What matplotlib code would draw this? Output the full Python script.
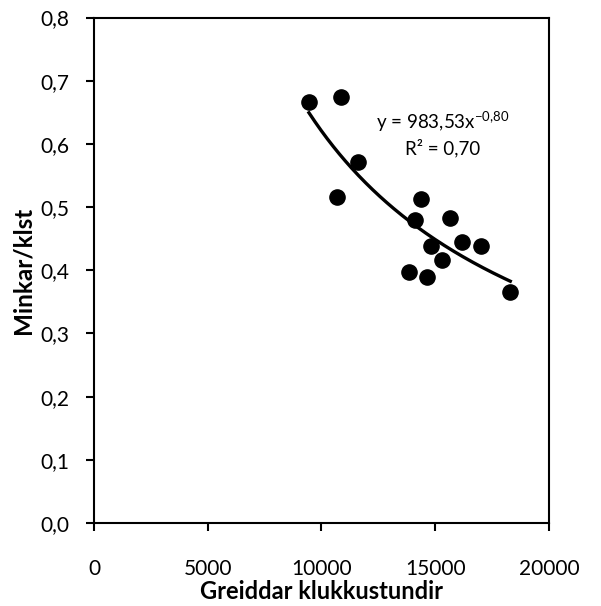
import numpy as np
import matplotlib
matplotlib.use('Agg')
import matplotlib.pyplot as plt
from matplotlib.ticker import FuncFormatter

plt.rcParams['font.family'] = ['Lato', 'DejaVu Sans']
plt.rcParams['mathtext.fontset'] = 'custom'
plt.rcParams['mathtext.rm'] = 'Lato'

# data
hours = [9450, 10857, 11618, 10666, 14360, 14110, 15648, 14800, 16160,
         17033, 15311, 13846, 14624, 18300]
mink = [0.667, 0.674, 0.571, 0.516, 0.513, 0.479, 0.482, 0.438, 0.445,
        0.438, 0.417, 0.398, 0.389, 0.366]

# power trendline given on the chart
coef_a = 983.53
coef_b = -0.80

fig = plt.figure(figsize=(6.01, 6.06), dpi=100)
ax = fig.add_axes([0.1564, 0.137, 0.757, 0.834])

ax.scatter(hours, mink, s=120, c='black', zorder=3)

xx = np.linspace(min(hours), max(hours), 200)
ax.plot(xx, coef_a * xx ** coef_b, color='black', lw=2.4, zorder=2)

ax.set_xlim(0, 20000)
ax.set_ylim(0, 0.8)
ax.set_xticks(np.arange(0, 20001, 5000))
ax.set_yticks(np.arange(0, 0.81, 0.1))
ax.yaxis.set_major_formatter(FuncFormatter(lambda v, p: ('%.1f' % v).replace('.', ',')))

for s in ax.spines.values():
    s.set_linewidth(1.5)
ax.tick_params(direction='out', length=6, width=1.5, labelsize=15)
ax.tick_params(axis='x', pad=20)
ax.tick_params(axis='y', pad=12)

ax.set_xlabel('Greiddar klukkustundir', fontsize=17, fontweight='bold', labelpad=1)
ax.set_ylabel('Minkar/klst', fontsize=17.5, fontweight='bold', labelpad=4)

ax.text(15341, 0.635, r'y = 983,53x$^{\mathrm{-0{,}80}}$', fontsize=13.5, ha='center', va='center')
ax.text(15341, 0.594, 'R² = 0,70', fontsize=13.5, ha='center', va='center')

fig.savefig('out.png', dpi=100)
